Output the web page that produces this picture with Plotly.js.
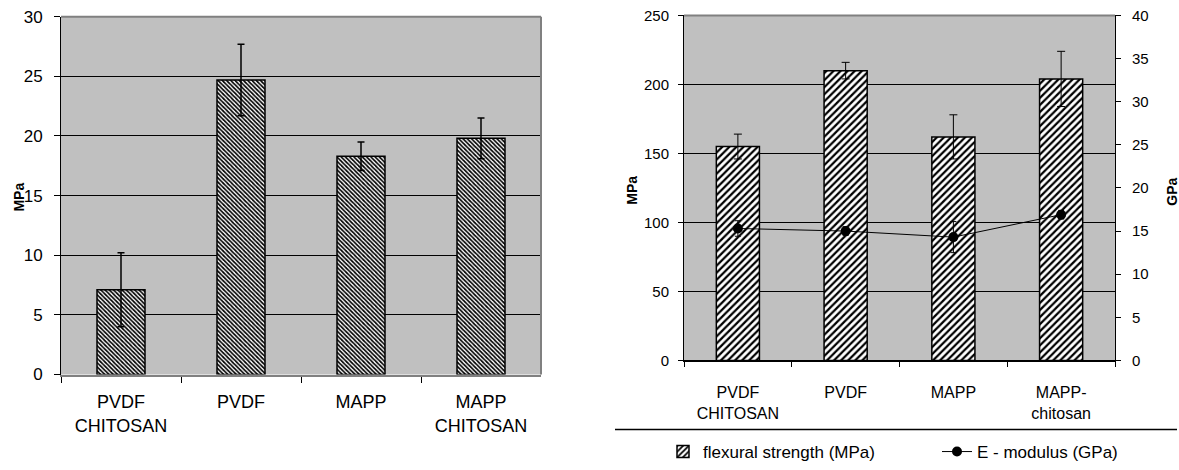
<!DOCTYPE html>
<html>
<head>
<meta charset="utf-8">
<script src="https://cdn.plot.ly/plotly-3.0.1.min.js"></script>
<style>
  html, body { margin: 0; padding: 0; background: #fff; }
  #chart { width: 1179px; height: 470px; }
</style>
</head>
<body>
<div id="chart"></div>
<script>
// ---- data ----
const categoriesLeft = ['PVDF<br>CHITOSAN', 'PVDF', 'MAPP', 'MAPP<br>CHITOSAN'];
const strengthLeft = [7.1, 24.7, 18.3, 19.8];
const strengthLeftError = [3.1, 3.0, 1.2, 1.7];

const categoriesRight = ['PVDF<br>CHITOSAN', 'PVDF', 'MAPP', 'MAPP-<br>chitosan'];
const flexuralStrength = [155, 210, 162, 204];
const flexuralStrengthError = [9, 6, 16, 20];
const eModulus = [15.3, 15.0, 14.3, 16.9];
const eModulusError = [0.9, 0.5, 1.8, 0.5];

const leftTicks = [0, 5, 10, 15, 20, 25, 30];
const rightMPaTicks = [0, 50, 100, 150, 200, 250];
const rightGPaTicks = [0, 5, 10, 15, 20, 25, 30, 35, 40];

// ---- styling ----
const FONT = 'Liberation Sans, Arial, Helvetica, sans-serif';
const W = 1179, H = 470;
const px = v => v / W;
const py = v => (H - v) / H;

const traces = [
  {
    type: 'bar', x: categoriesLeft, y: strengthLeft,
    xaxis: 'x', yaxis: 'y', width: 0.4, showlegend: false,
    marker: {
      color: '#ffffff',
      line: { color: '#000', width: 1.5 },
      pattern: { shape: '\\', fgcolor: '#000', bgcolor: '#ffffff', size: 3, solidity: 0.55 }
    },
    error_y: { type: 'data', array: strengthLeftError, visible: true, color: '#000', thickness: 1.5, width: 3.5 }
  },
  {
    type: 'bar', x: categoriesRight, y: flexuralStrength, name: 'flexural strength (MPa)',
    xaxis: 'x2', yaxis: 'y2', width: 0.4, legend: 'legend',
    marker: {
      color: '#ffffff',
      line: { color: '#000', width: 1.5 },
      pattern: { shape: '/', fgcolor: '#000', bgcolor: '#ffffff', size: 5, solidity: 0.45 }
    },
    error_y: { type: 'data', array: flexuralStrengthError, visible: true, color: '#000', thickness: 1, width: 4 }
  },
  {
    type: 'scatter', mode: 'lines+markers', x: categoriesRight, y: eModulus, name: 'E - modulus (GPa)',
    xaxis: 'x2', yaxis: 'y3', legend: 'legend2',
    line: { color: '#000', width: 1 },
    marker: { color: '#000', size: 10, symbol: 'circle' },
    error_y: { type: 'data', array: eModulusError, visible: true, color: '#000', thickness: 1, width: 3 }
  }
];

const tickFont = { family: FONT, size: 15, color: '#000' };

const layout = {
  width: W, height: H,
  margin: { l: 0, r: 0, t: 0, b: 0 },
  paper_bgcolor: '#ffffff',
  plot_bgcolor: '#c0c0c0',
  font: { family: FONT, color: '#000' },
  bargap: 0.6,
  xaxis: {
    domain: [px(61), px(541)], anchor: 'y', type: 'category', range: [-0.5, 3.5],
    showline: true, linecolor: '#808080', linewidth: 2,
    ticks: 'outside', tickson: 'boundaries', ticklen: 6, tickcolor: '#000', tickwidth: 1,
    tickfont: { family: FONT, size: 18, color: '#000' }, ticklabelstandoff: 10,
    showgrid: false, zeroline: false, automargin: false, fixedrange: true
  },
  yaxis: {
    domain: [py(381), py(17)], anchor: 'x', range: [0, 30], tickvals: leftTicks,
    showline: true, linecolor: '#000', linewidth: 1,
    ticks: 'outside', ticklen: 6, tickcolor: '#000', tickwidth: 1,
    tickfont: { family: FONT, size: 17, color: '#000' }, ticklabelstandoff: 8,
    showgrid: true, gridcolor: '#000', gridwidth: 1, zeroline: false, automargin: false, fixedrange: true
  },
  xaxis2: {
    domain: [px(684), px(1115)], anchor: 'y2', type: 'category', range: [-0.5, 3.5],
    showline: true, linecolor: '#000', linewidth: 1.5,
    ticks: 'outside', tickson: 'boundaries', ticklen: 5, tickcolor: '#000', tickwidth: 1,
    tickfont: { family: FONT, size: 16, color: '#000' }, ticklabelstandoff: 17,
    showgrid: false, zeroline: false, automargin: false, fixedrange: true
  },
  yaxis2: {
    domain: [py(366.7), py(15.7)], anchor: 'x2', range: [0, 250], tickvals: rightMPaTicks,
    showline: true, linecolor: '#000', linewidth: 1,
    ticks: 'outside', ticklen: 5, tickcolor: '#000', tickwidth: 1,
    tickfont: tickFont, ticklabelstandoff: 6,
    showgrid: true, gridcolor: '#000', gridwidth: 1, zeroline: false, automargin: false, fixedrange: true
  },
  yaxis3: {
    overlaying: 'y2', anchor: 'x2', side: 'right', range: [0, 40], tickvals: rightGPaTicks,
    showline: true, linecolor: '#000', linewidth: 1,
    ticks: 'outside', ticklen: 5, tickcolor: '#000', tickwidth: 1,
    tickfont: tickFont, ticklabelstandoff: 8,
    showgrid: false, zeroline: false, automargin: false, fixedrange: true
  },
  legend: {
    x: px(663), y: py(460), xanchor: 'left', yanchor: 'middle', orientation: 'h',
    font: { family: FONT, size: 17, color: '#000' }, bgcolor: 'rgba(0,0,0,0)', borderwidth: 0
  },
  legend2: {
    x: px(937), y: py(460), xanchor: 'left', yanchor: 'middle', orientation: 'h',
    font: { family: FONT, size: 17, color: '#000' }, bgcolor: 'rgba(0,0,0,0)', borderwidth: 0
  },
  shapes: [
    { type: 'line', xref: 'x domain', yref: 'y domain', x0: 0, x1: 1, y0: 1, y1: 1, line: { color: '#808080', width: 2 } },
    { type: 'line', xref: 'x domain', yref: 'y domain', x0: 1, x1: 1, y0: 0, y1: 1, line: { color: '#808080', width: 2 } },
    { type: 'line', xref: 'x2 domain', yref: 'y2 domain', x0: 0, x1: 1, y0: 1, y1: 1, line: { color: '#808080', width: 2 } },
    { type: 'line', xref: 'paper', yref: 'paper', x0: px(615), x1: px(1177), y0: py(437), y1: py(437), line: { color: '#000', width: 1.5 } }
  ],
  annotations: [
    { text: '<b>MPa</b>', xref: 'paper', yref: 'paper', x: px(19), y: py(200), textangle: -90, showarrow: false,
      font: { family: FONT, size: 14, color: '#000' }, xanchor: 'center', yanchor: 'middle' },
    { text: '<b>MPa</b>', xref: 'paper', yref: 'paper', x: px(632), y: py(194), textangle: -90, showarrow: false,
      font: { family: FONT, size: 14, color: '#000' }, xanchor: 'center', yanchor: 'middle' },
    { text: '<b>GPa</b>', xref: 'paper', yref: 'paper', x: px(1172), y: py(195), textangle: -90, showarrow: false,
      font: { family: FONT, size: 14, color: '#000' }, xanchor: 'center', yanchor: 'middle' }
  ]
};

Plotly.newPlot('chart', traces, layout, { staticPlot: true, displayModeBar: false });
</script>
</body>
</html>
